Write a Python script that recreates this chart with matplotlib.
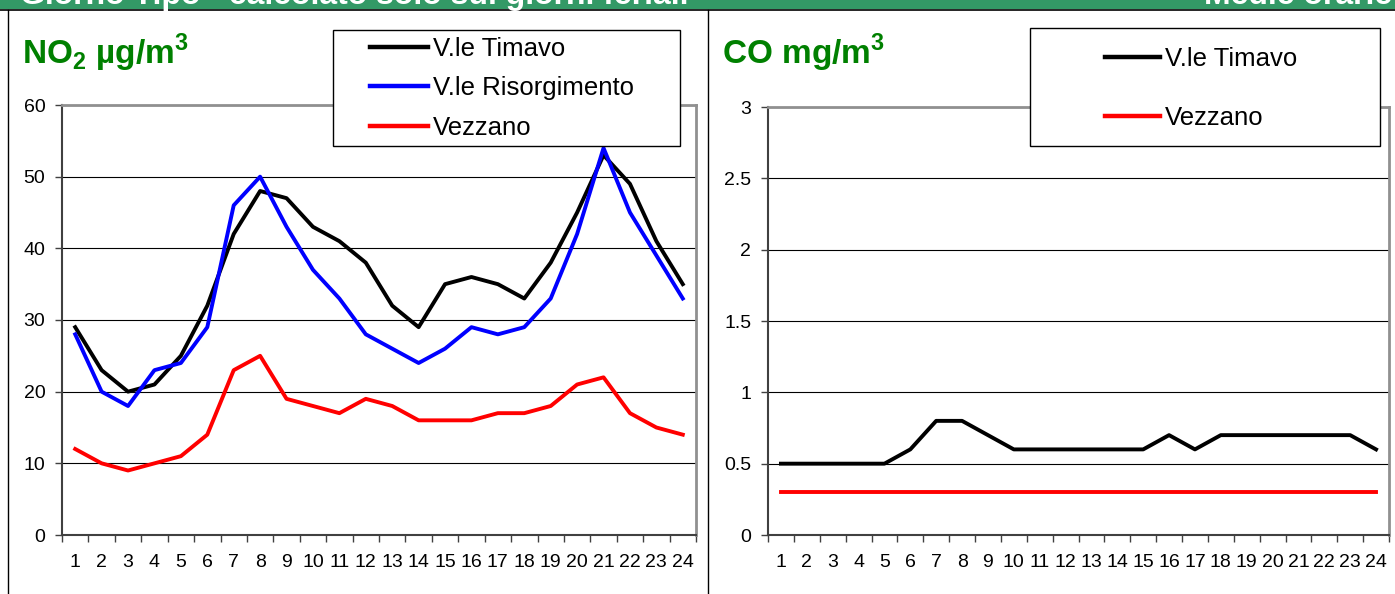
import matplotlib
matplotlib.use("Agg")
from matplotlib import pyplot as plt
from matplotlib.patches import Rectangle
from matplotlib.lines import Line2D
from matplotlib.ticker import FixedLocator, FuncFormatter

plt.rcParams['font.family'] = ['Liberation Sans', 'DejaVu Sans']
plt.rcParams['mathtext.fontset'] = 'custom'
plt.rcParams['mathtext.rm'] = 'Liberation Sans:bold'
plt.rcParams['mathtext.bf'] = 'Liberation Sans:bold'

hours = list(range(1, 25))

# NO2 (ug/m3)
no2_timavo = [29, 23, 20, 21, 25, 32, 42, 48, 47, 43, 41, 38, 32, 29, 35, 36, 35, 33, 38, 45, 53, 49, 41, 35]
no2_risorgimento = [28, 20, 18, 23, 24, 29, 46, 50, 43, 37, 33, 28, 26, 24, 26, 29, 28, 29, 33, 42, 54, 45, 39, 33]
no2_vezzano = [12, 10, 9, 10, 11, 14, 23, 25, 19, 18, 17, 19, 18, 16, 16, 16, 17, 17, 18, 21, 22, 17, 15, 14]

# CO (mg/m3)
co_timavo = [0.5, 0.5, 0.5, 0.5, 0.5, 0.6, 0.8, 0.8, 0.7, 0.6, 0.6, 0.6, 0.6, 0.6, 0.6, 0.7, 0.6, 0.7, 0.7, 0.7, 0.7, 0.7, 0.7, 0.6]
co_vezzano = [0.3] * 24

W, H = 1395, 594
fig = plt.figure(figsize=(W / 100, H / 100), dpi=100)


def fx(px):
    return px / W


def fy(py):
    return 1 - py / H


# header bar and panel frame
fig.patches.append(Rectangle((0, fy(9)), 1, 9 / H, transform=fig.transFigure,
                             facecolor='#339966', edgecolor='none'))
fig.add_artist(Line2D([0, 1], [fy(9.5), fy(9.5)], color='black', lw=1.2))
fig.add_artist(Line2D([fx(8), fx(8)], [0, fy(9.5)], color='black', lw=1))
fig.add_artist(Line2D([fx(708), fx(708)], [0, fy(9.5)], color='black', lw=1))
fig.text(fx(20), fy(4), "Giorno Tipo - calcolato solo sui giorni feriali", color='white',
         fontsize=23, fontweight='bold', va='baseline', ha='left')
fig.text(fx(1392), fy(4), "Medie orarie", color='white',
         fontsize=23, fontweight='bold', va='baseline', ha='right')


def setup_axes(ax, ymax, ystep, fmt):
    ax.set_xlim(0.5, 24.5)
    ax.set_ylim(0, ymax)
    ax.set_xticks(hours)
    ax.set_xticklabels([str(h) for h in hours], fontsize=14)
    ax.xaxis.set_minor_locator(FixedLocator([h + 0.5 for h in range(0, 25)]))
    ax.tick_params(axis='x', which='major', length=0, pad=14)
    ax.tick_params(axis='x', which='minor', length=5, width=1, direction='out', color='#404040')
    yt = [i * ystep for i in range(int(round(ymax / ystep)) + 1)]
    ax.set_yticks(yt)
    ax.yaxis.set_major_formatter(FuncFormatter(fmt))
    ax.tick_params(axis='y', length=5, width=1, pad=7, labelsize=14, color='#404040')
    ax.grid(axis='y', color='black', lw=0.8)
    ax.set_axisbelow(True)
    for s in ['left', 'bottom']:
        ax.spines[s].set_color('#404040')
        ax.spines[s].set_linewidth(1.5)
    for s in ['top', 'right']:
        ax.spines[s].set_color('#909090')
        ax.spines[s].set_linewidth(2)


def legend_box(ax, x0, y0, x1, y1):
    ax.add_patch(Rectangle((fx(x0), fy(y1)), fx(x1) - fx(x0), (y1 - y0) / H,
                           transform=fig.transFigure, facecolor='white',
                           edgecolor='black', lw=1, clip_on=False, zorder=4))


# NO2 panel
ax1 = fig.add_axes([fx(62), fy(535), fx(696) - fx(62), (535 - 105) / H])
ax1.plot(hours, no2_timavo, color='black', lw=2.8, label='V.le Timavo')
ax1.plot(hours, no2_risorgimento, color='#0000ff', lw=2.8, label='V.le Risorgimento')
ax1.plot(hours, no2_vezzano, color='#ff0000', lw=2.8, label='Vezzano')
setup_axes(ax1, 60, 10, lambda v, p: '%d' % v)
legend_box(ax1, 333, 30, 680, 146)
leg1 = ax1.legend(loc='upper left', bbox_to_anchor=(fx(370), fy(37)), bbox_transform=fig.transFigure,
                  frameon=False, fontsize=18.5, handlelength=2.25, handletextpad=0.2,
                  labelspacing=0.6, borderpad=0, borderaxespad=0)
for h in leg1.get_lines():
    h.set_linewidth(3.2)
fig.text(fx(22), fy(64), r"NO$_{2}$ µg/m$^{3}$", color='#008000', fontsize=24,
         fontweight='bold', va='baseline')

# CO panel
ax2 = fig.add_axes([fx(768), fy(535), fx(1389) - fx(768), (535 - 107) / H])
ax2.plot(hours, co_timavo, color='black', lw=2.8, label='V.le Timavo')
ax2.plot(hours, co_vezzano, color='#ff0000', lw=2.8, label='Vezzano')
setup_axes(ax2, 3, 0.5, lambda v, p: '%g' % v)
legend_box(ax2, 1030, 28, 1380, 146)
leg2 = ax2.legend(loc='upper left', bbox_to_anchor=(fx(1105), fy(47)), bbox_transform=fig.transFigure,
                  frameon=False, fontsize=18.5, handlelength=2.15, handletextpad=0.2,
                  labelspacing=1.38, borderpad=0, borderaxespad=0)
for h in leg2.get_lines():
    h.set_linewidth(3.2)
fig.text(fx(722), fy(64), r"CO mg/m$^{3}$", color='#008000', fontsize=24,
         fontweight='bold', va='baseline')

fig.savefig('out.png', dpi=100)
